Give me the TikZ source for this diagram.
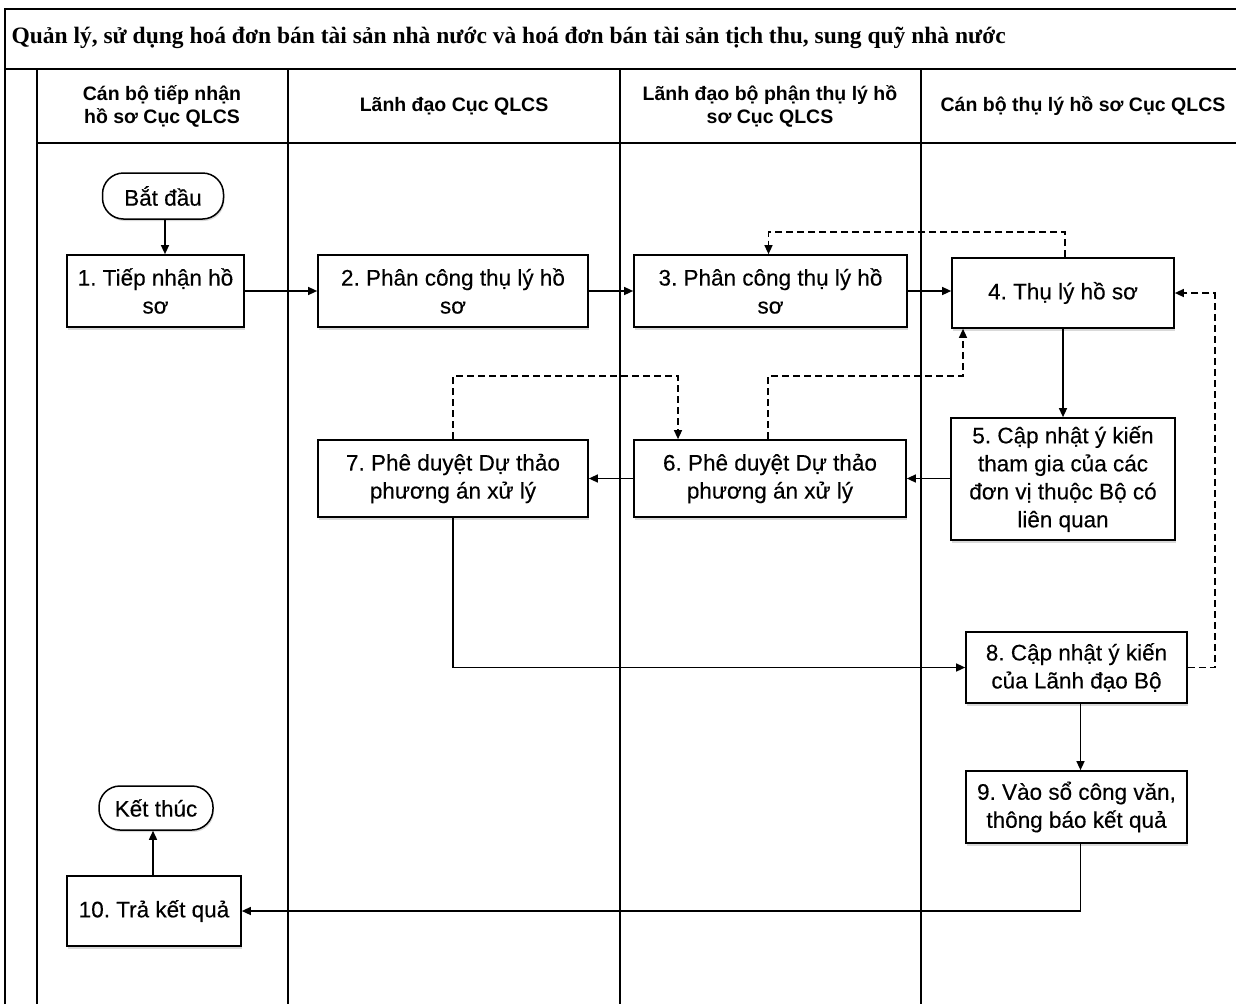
\documentclass[tikz,border=0pt]{standalone}
\usepackage{fontspec}
\setmainfont{Liberation Sans}
\newfontfamily\serifti{Liberation Serif}
\newfontfamily\nodefont[FakeBold=0.3]{Liberation Sans}
\usetikzlibrary{arrows.meta,shadows}
\frenchspacing
\begin{document}
\begin{tikzpicture}[x=1pt,y=-1pt,
  lane/.style={line width=1.7pt},
  proc/.style={draw, line width=1.7pt, fill=white, align=center, inner sep=2pt,
    font=\nodefont\fontsize{22.5}{28}\selectfont,
    drop shadow={shadow xshift=1pt, shadow yshift=-2.5pt, opacity=0.3, fill=gray}},
  term/.style={draw, line width=1.5pt, fill=white, rounded corners=21pt, inner sep=2pt,
    font=\nodefont\fontsize{22.5}{26}\selectfont, minimum width=120pt, minimum height=44pt,
    drop shadow={shadow xshift=1pt, shadow yshift=-2pt, opacity=0.3, fill=gray}},
  flow/.style={line width=1.4pt, -{Triangle[length=9pt,width=8pt]}},
  back/.style={flow, dash pattern=on 7pt off 4pt},
  hdr/.style={font=\bfseries\fontsize{19.5}{23}\selectfont, align=center}
]
\useasboundingbox (0,0) rectangle (1236,1004);
% frame and lanes
\draw[lane] (5,1004) -- (5,9) -- (1236,9);
\draw[lane] (5,69) -- (1236,69);
\draw[line width=2.2pt] (37,69) -- (37,1004);
\draw[lane] (37,143) -- (1236,143);
\draw[lane] (288,69) -- (288,1004);
\draw[lane] (620,69) -- (620,1004);
\draw[lane] (921,69) -- (921,1004);
\node[anchor=west, font=\serifti\bfseries\fontsize{23.5}{26}\selectfont] (title) at (8,38)
  {Quản lý, sử dụng hoá đơn bán tài sản nhà nước và hoá đơn bán tài sản tịch thu, sung quỹ nhà nước};
\node[hdr] (h1) at (162,106) {Cán bộ tiếp nhận\\hồ sơ Cục QLCS};
\node[hdr] (h2) at (454,106) {Lãnh đạo Cục QLCS};
\node[hdr] (h3) at (770,106) {Lãnh đạo bộ phận thụ lý hồ\\sơ Cục QLCS};
\node[hdr] (h4) at (1083,106) {Cán bộ thụ lý hồ sơ Cục QLCS};
% nodes
\node[term, minimum width=121pt, minimum height=46pt] (start) at (163,196) {Bắt đầu};
\node[proc, minimum width=177pt, minimum height=72pt] (n1) at (155.5,291) {1. Tiếp nhận hồ\\sơ};
\node[proc, minimum width=270pt, minimum height=72pt] (n2) at (453,291) {2. Phân công thụ lý hồ\\sơ};
\node[proc, minimum width=273pt, minimum height=72pt] (n3) at (770.5,291) {3. Phân công thụ lý hồ\\sơ};
\node[proc, minimum width=222pt, minimum height=70pt] (n4) at (1063,293) {4. Thụ lý hồ sơ};
\node[proc, minimum width=224pt, minimum height=122pt] (n5) at (1063,479) {5. Cập nhật ý kiến\\tham gia của các\\đơn vị thuộc Bộ có\\liên quan};
\node[proc, minimum width=272pt, minimum height=77pt] (n6) at (770,478.5) {6. Phê duyệt Dự thảo\\phương án xử lý};
\node[proc, minimum width=270pt, minimum height=77pt] (n7) at (453,478.5) {7. Phê duyệt Dự thảo\\phương án xử lý};
\node[proc, minimum width=221pt, minimum height=71pt] (n8) at (1076.5,667.5) {8. Cập nhật ý kiến\\của Lãnh đạo Bộ};
\node[proc, minimum width=221pt, minimum height=72pt] (n9) at (1076.5,807) {9. Vào sổ công văn,\\thông báo kết quả};
\node[proc, minimum width=174pt, minimum height=70pt] (n10) at (154,911) {10. Trả kết quả};
\node[term, minimum width=114pt, minimum height=44pt] (end) at (156,808) {Kết thúc};
% connectors
\draw[flow] ([xshift=2pt]start.south) -- ([xshift=2pt]start.south |- n1.north);
\draw[flow] (n1) -- (n2);
\draw[flow] (n2) -- (n3);
\draw[flow] (n3.east) -- (n3.east -| n4.west);
\draw[flow] (n4) -- (n5);
\draw[flow] (n5.west |- n6.east) -- (n6.east);
\draw[flow] (n6) -- (n7);
\draw[back] ([xshift=2pt]n4.north) -- ++(0,-25) -| ([xshift=-2pt]n3.north);
\draw[back] ([xshift=-2pt]n6.north) -- ++(0,-63) -| ([xshift=-100pt]n4.south);
\draw[back] (n7.north) -- ++(0,-63) -| ([xshift=-92pt]n6.north);
\draw[flow] (n7.south) |- (n8.west);
\draw[back] (n8.east) -- ++(27,0) |- (n4.east);
\draw[flow] ([xshift=4pt]n8.south) -- ([xshift=4pt]n9.north);
\draw[flow] ([xshift=4pt]n9.south) |- (n10.east);
\draw[flow] ([xshift=-1pt]n10.north) -- ([xshift=-1pt]n10.north |- end.south);
\end{tikzpicture}
\end{document}
